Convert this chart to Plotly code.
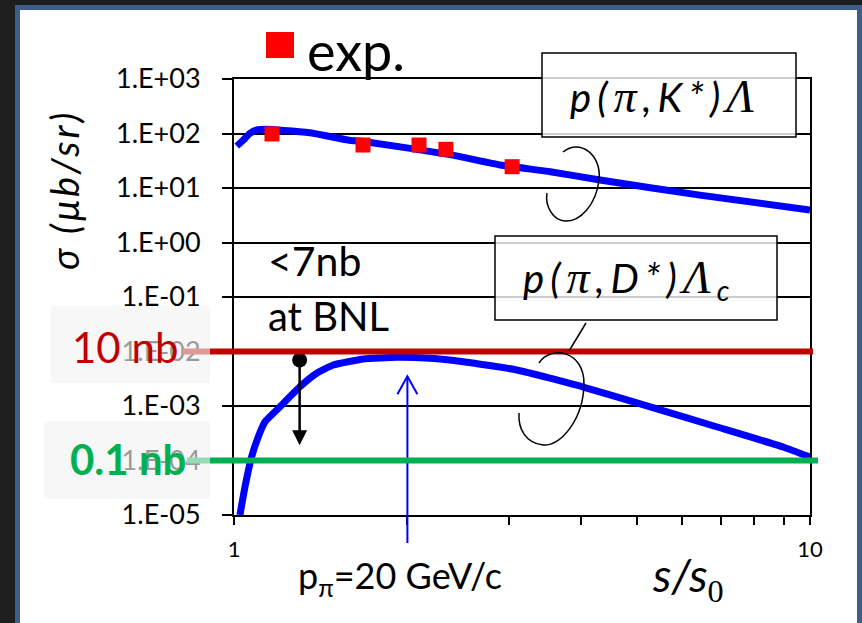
import math
import plotly.graph_objects as go

# ---- data -------------------------------------------------------------
# p(pi,K*)Lambda model curve: s/s0 vs sigma (ub/sr)
kstar_s = [1.011, 1.038, 1.066, 1.095, 1.163, 1.371, 1.577, 1.70, 2.37, 2.90, 3.54, 4.32, 6.44, 10.0]
kstar_sigma = [59, 76, 101, 116, 119, 101, 76, 70, 41, 26.4, 19.9, 14.0, 7.4, 3.95]

# p(pi,D*)Lambda_c model curve
dstar_s = [1.024, 1.045, 1.073, 1.102, 1.132, 1.202, 1.302, 1.392, 1.487, 1.677,
           1.917, 2.189, 2.50, 3.10, 4.04, 5.28, 6.90, 8.98, 10.0]
dstar_sigma = [1.0e-5, 3.3e-5, 1.17e-4, 2.73e-4, 5.15e-4, 9.7e-4, 2.26e-3, 3.98e-3, 5.65e-3, 7.28e-3,
               7.82e-3, 7.5e-3, 6.5e-3, 4.58e-3, 2.23e-3, 9.6e-4, 4.12e-4, 1.77e-4, 1.16e-4]

# measured K* points
exp_s = [1.164, 1.675, 2.095, 2.333, 3.04]
exp_sigma = [98, 61.5, 61.5, 51.3, 24.6]

# BNL upper limit (<7 nb = 7e-3 ub) and where its arrow points
bnl_s = 1.30
bnl_sigma = 7e-3
bnl_arrow_end = 1.9e-4

# reference levels (ub/sr)
level_10nb = 1e-2
level_01nb = 1e-4

# p_pi = 20 GeV/c position and the arrow tip
ppi20_s = 2.0
ppi20_tip = 3.5e-3

y_tick_vals = [1e3, 1e2, 1e1, 1e0, 1e-1, 1e-2, 1e-3, 1e-4, 1e-5]
y_tick_labels = ["1.E+03", "1.E+02", "1.E+01", "1.E+00", "1.E-01", "1.E-02", "1.E-03", "1.E-04", "1.E-05"]
x_tick_vals = [1, 2, 3, 4, 5, 6, 7, 8, 9, 10]
x_tick_labels = ["1", "", "", "", "", "", "", "", "", "10"]

# ---- page geometry ----------------------------------------------------
W, H = 862, 623
L, R, T, B = 234, 52, 79, 108
PW, PH = W - L - R, H - T - B


def px_x(x):
    return (x - L) / PW


def px_y(y):
    return (H - B - y) / PH


def path(points):
    parts = []
    for cmd, x, y in points:
        xy = "%.4f,%.4f" % (px_x(x), px_y(y))
        parts.append("%s %s" % (cmd, xy) if cmd else xy)
    return "M " + " ".join(parts)


FONT = "Lato"
SERIF = "Liberation Serif"
BLUE = "#0000ff"

fig = go.Figure()

fig.add_trace(go.Scatter(x=kstar_s, y=kstar_sigma, mode="lines",
                         line=dict(color=BLUE, width=7, shape="spline", smoothing=0.4),
                         showlegend=False, hoverinfo="skip"))
fig.add_trace(go.Scatter(x=dstar_s, y=dstar_sigma, mode="lines",
                         line=dict(color=BLUE, width=7, shape="spline", smoothing=0.4),
                         showlegend=False, hoverinfo="skip"))
fig.add_trace(go.Scatter(x=exp_s, y=exp_sigma, mode="markers",
                         marker=dict(symbol="square", size=15, color="#ff0000"),
                         showlegend=False, hoverinfo="skip"))
fig.add_trace(go.Scatter(x=[bnl_s], y=[bnl_sigma], mode="markers",
                         marker=dict(symbol="circle", size=15, color="black"),
                         showlegend=False, hoverinfo="skip"))

shapes = []
# slide panel with blue frame
shapes.append(dict(type="rect", xref="paper", yref="paper", layer="below",
                   x0=px_x(17.5), x1=px_x(859.5), y0=px_y(660), y1=px_y(7.5),
                   fillcolor="white", line=dict(color="#3d5e8c", width=5)))
# p_pi = 20 GeV/c arrow
xa = math.log10(ppi20_s)
ytip = px_y(T + (3 - math.log10(ppi20_tip)) * PH / 8)
shapes.append(dict(type="line", xref="paper", yref="paper", layer="above",
                   x0=xa, x1=xa, y0=px_y(543), y1=ytip, line=dict(color=BLUE, width=2)))
dx, dy = 10 / PW, 18 / PH
shapes.append(dict(type="path", xref="paper", yref="paper", layer="above",
                   path="M %.4f,%.4f L %.4f,%.4f L %.4f,%.4f" % (xa - dx, ytip - dy, xa, ytip, xa + dx, ytip - dy),
                   line=dict(color=BLUE, width=2)))
# reference levels
shapes.append(dict(type="line", xref="paper", yref="y", layer="above",
                   x0=px_x(181), x1=px_x(813), y0=level_10nb, y1=level_10nb,
                   line=dict(color="#c00000", width=6)))
shapes.append(dict(type="line", xref="paper", yref="y", layer="above",
                   x0=px_x(187), x1=px_x(818), y0=level_01nb, y1=level_01nb,
                   line=dict(color="#00b050", width=6)))
# translucent label plates
shapes.append(dict(type="rect", xref="paper", yref="paper", layer="above",
                   x0=px_x(51), x1=px_x(210), y0=px_y(383), y1=px_y(306),
                   fillcolor="rgba(242,242,242,0.63)", line=dict(width=0)))
shapes.append(dict(type="rect", xref="paper", yref="paper", layer="above",
                   x0=px_x(44), x1=px_x(210), y0=px_y(499), y1=px_y(421),
                   fillcolor="rgba(242,242,242,0.63)", line=dict(width=0)))
# reaction boxes
shapes.append(dict(type="rect", xref="paper", yref="paper", layer="above",
                   x0=px_x(542), x1=px_x(796), y0=px_y(137), y1=px_y(53),
                   fillcolor="rgba(255,255,255,0.8)", line=dict(color="black", width=1.5)))
shapes.append(dict(type="rect", xref="paper", yref="paper", layer="above",
                   x0=px_x(495), x1=px_x(777), y0=px_y(320), y1=px_y(236),
                   fillcolor="rgba(255,255,255,0.8)", line=dict(color="black", width=1.5)))
# curly pointers
shapes.append(dict(type="path", xref="paper", yref="paper", layer="above",
                   path=path([("", 563, 152), ("C", 580, 138), ("", 602, 155), ("", 599, 180),
                              ("C", 596, 205), ("", 580, 222), ("", 565, 221),
                              ("C", 552, 220), ("", 545, 205), ("", 547, 193)]),
                   line=dict(color="black", width=1.5)))
shapes.append(dict(type="path", xref="paper", yref="paper", layer="above",
                   path=path([("", 539, 363), ("C", 550, 345), ("", 585, 350), ("", 584, 385),
                              ("C", 583, 420), ("", 560, 447), ("", 543, 445),
                              ("C", 525, 443), ("", 518, 428), ("", 519, 413)]),
                   line=dict(color="black", width=1.5)))
shapes.append(dict(type="line", xref="paper", yref="paper", layer="above",
                   x0=px_x(586), y0=px_y(323), x1=px_x(569), y1=px_y(351),
                   line=dict(color="black", width=1.5)))
# legend swatch
shapes.append(dict(type="rect", xref="paper", yref="paper", layer="above",
                   x0=px_x(266), x1=px_x(294), y0=px_y(58), y1=px_y(32),
                   fillcolor="#ff0000", line=dict(width=0)))

ann = []


def text(x, y, s, size, color="black", xanchor="center", angle=0):
    ann.append(dict(x=px_x(x), y=px_y(y), xref="paper", yref="paper", text=s, showarrow=False,
                    xanchor=xanchor, yanchor="middle", textangle=angle,
                    font=dict(family=FONT, size=size, color=color)))


text(305, 50, "exp.", 54, xanchor="left")
text(266, 260, "&lt;7nb", 41, xanchor="left")
text(266, 316, "at BNL", 40, xanchor="left")
text(180, 347, "10 nb", 42, color="#c00000", xanchor="right")
text(188, 459, "<b>0.1 nb</b>", 42, color="#00b050", xanchor="right")

pi = "<span style='font-family:%s;font-size:46px'>π</span>" % SERIF
lam = "<span style='font-family:%s;font-size:46px'>Λ</span>" % SERIF
spaced = "<span style='letter-spacing:6px'>%s</span>"
text(665, 97, "<i>" + spaced % ("p(%s,K*)%s" % (pi, lam)) + "</i>", 40)
text(626, 279, "<i>" + spaced % ("p(%s,D*)%s" % (pi, lam)) + "<sub>c</sub></i>", 40)
text(400, 577, "p<sub>π</sub>=20 GeV/c", 36)
text(688, 578, "<i>s/s</i><sub><span style='font-family:%s'>0</span></sub>" % SERIF, 46)
text(64, 190, "<i><span style='letter-spacing:3px'>σ (μb/sr)</span></i>", 38, angle=-90)

# BNL limit arrow
ann.append(dict(x=math.log10(bnl_s), y=math.log10(bnl_arrow_end), xref="x", yref="y",
                ax=math.log10(bnl_s), ay=math.log10(bnl_sigma), axref="x", ayref="y",
                text="", showarrow=True, arrowhead=2, arrowsize=1.2, arrowwidth=2.5,
                arrowcolor="black"))

fig.update_layout(
    width=W, height=H,
    margin=dict(l=L, r=R, t=T, b=B, autoexpand=False),
    paper_bgcolor="#1e1e1e", plot_bgcolor="white",
    shapes=shapes, annotations=ann, showlegend=False,
    xaxis=dict(type="log", range=[0, 1], tickvals=x_tick_vals, ticktext=x_tick_labels,
               ticks="outside", ticklen=8, tickwidth=2, tickcolor="black",
               showline=True, linewidth=2, linecolor="black", mirror=True,
               showgrid=False, zeroline=False, ticklabelstandoff=6,
               tickfont=dict(family=FONT, size=22, color="black")),
    yaxis=dict(type="log", range=[-5, 3], tickvals=y_tick_vals, ticktext=y_tick_labels,
               ticks="outside", ticklen=10, tickwidth=2, tickcolor="black",
               showline=True, linewidth=2, linecolor="black", mirror=True,
               showgrid=True, gridcolor="black", gridwidth=1.8, zeroline=False,
               ticklabelstandoff=16,
               tickfont=dict(family=FONT, size=27, color="black")),
)

fig.write_html("out.html")
